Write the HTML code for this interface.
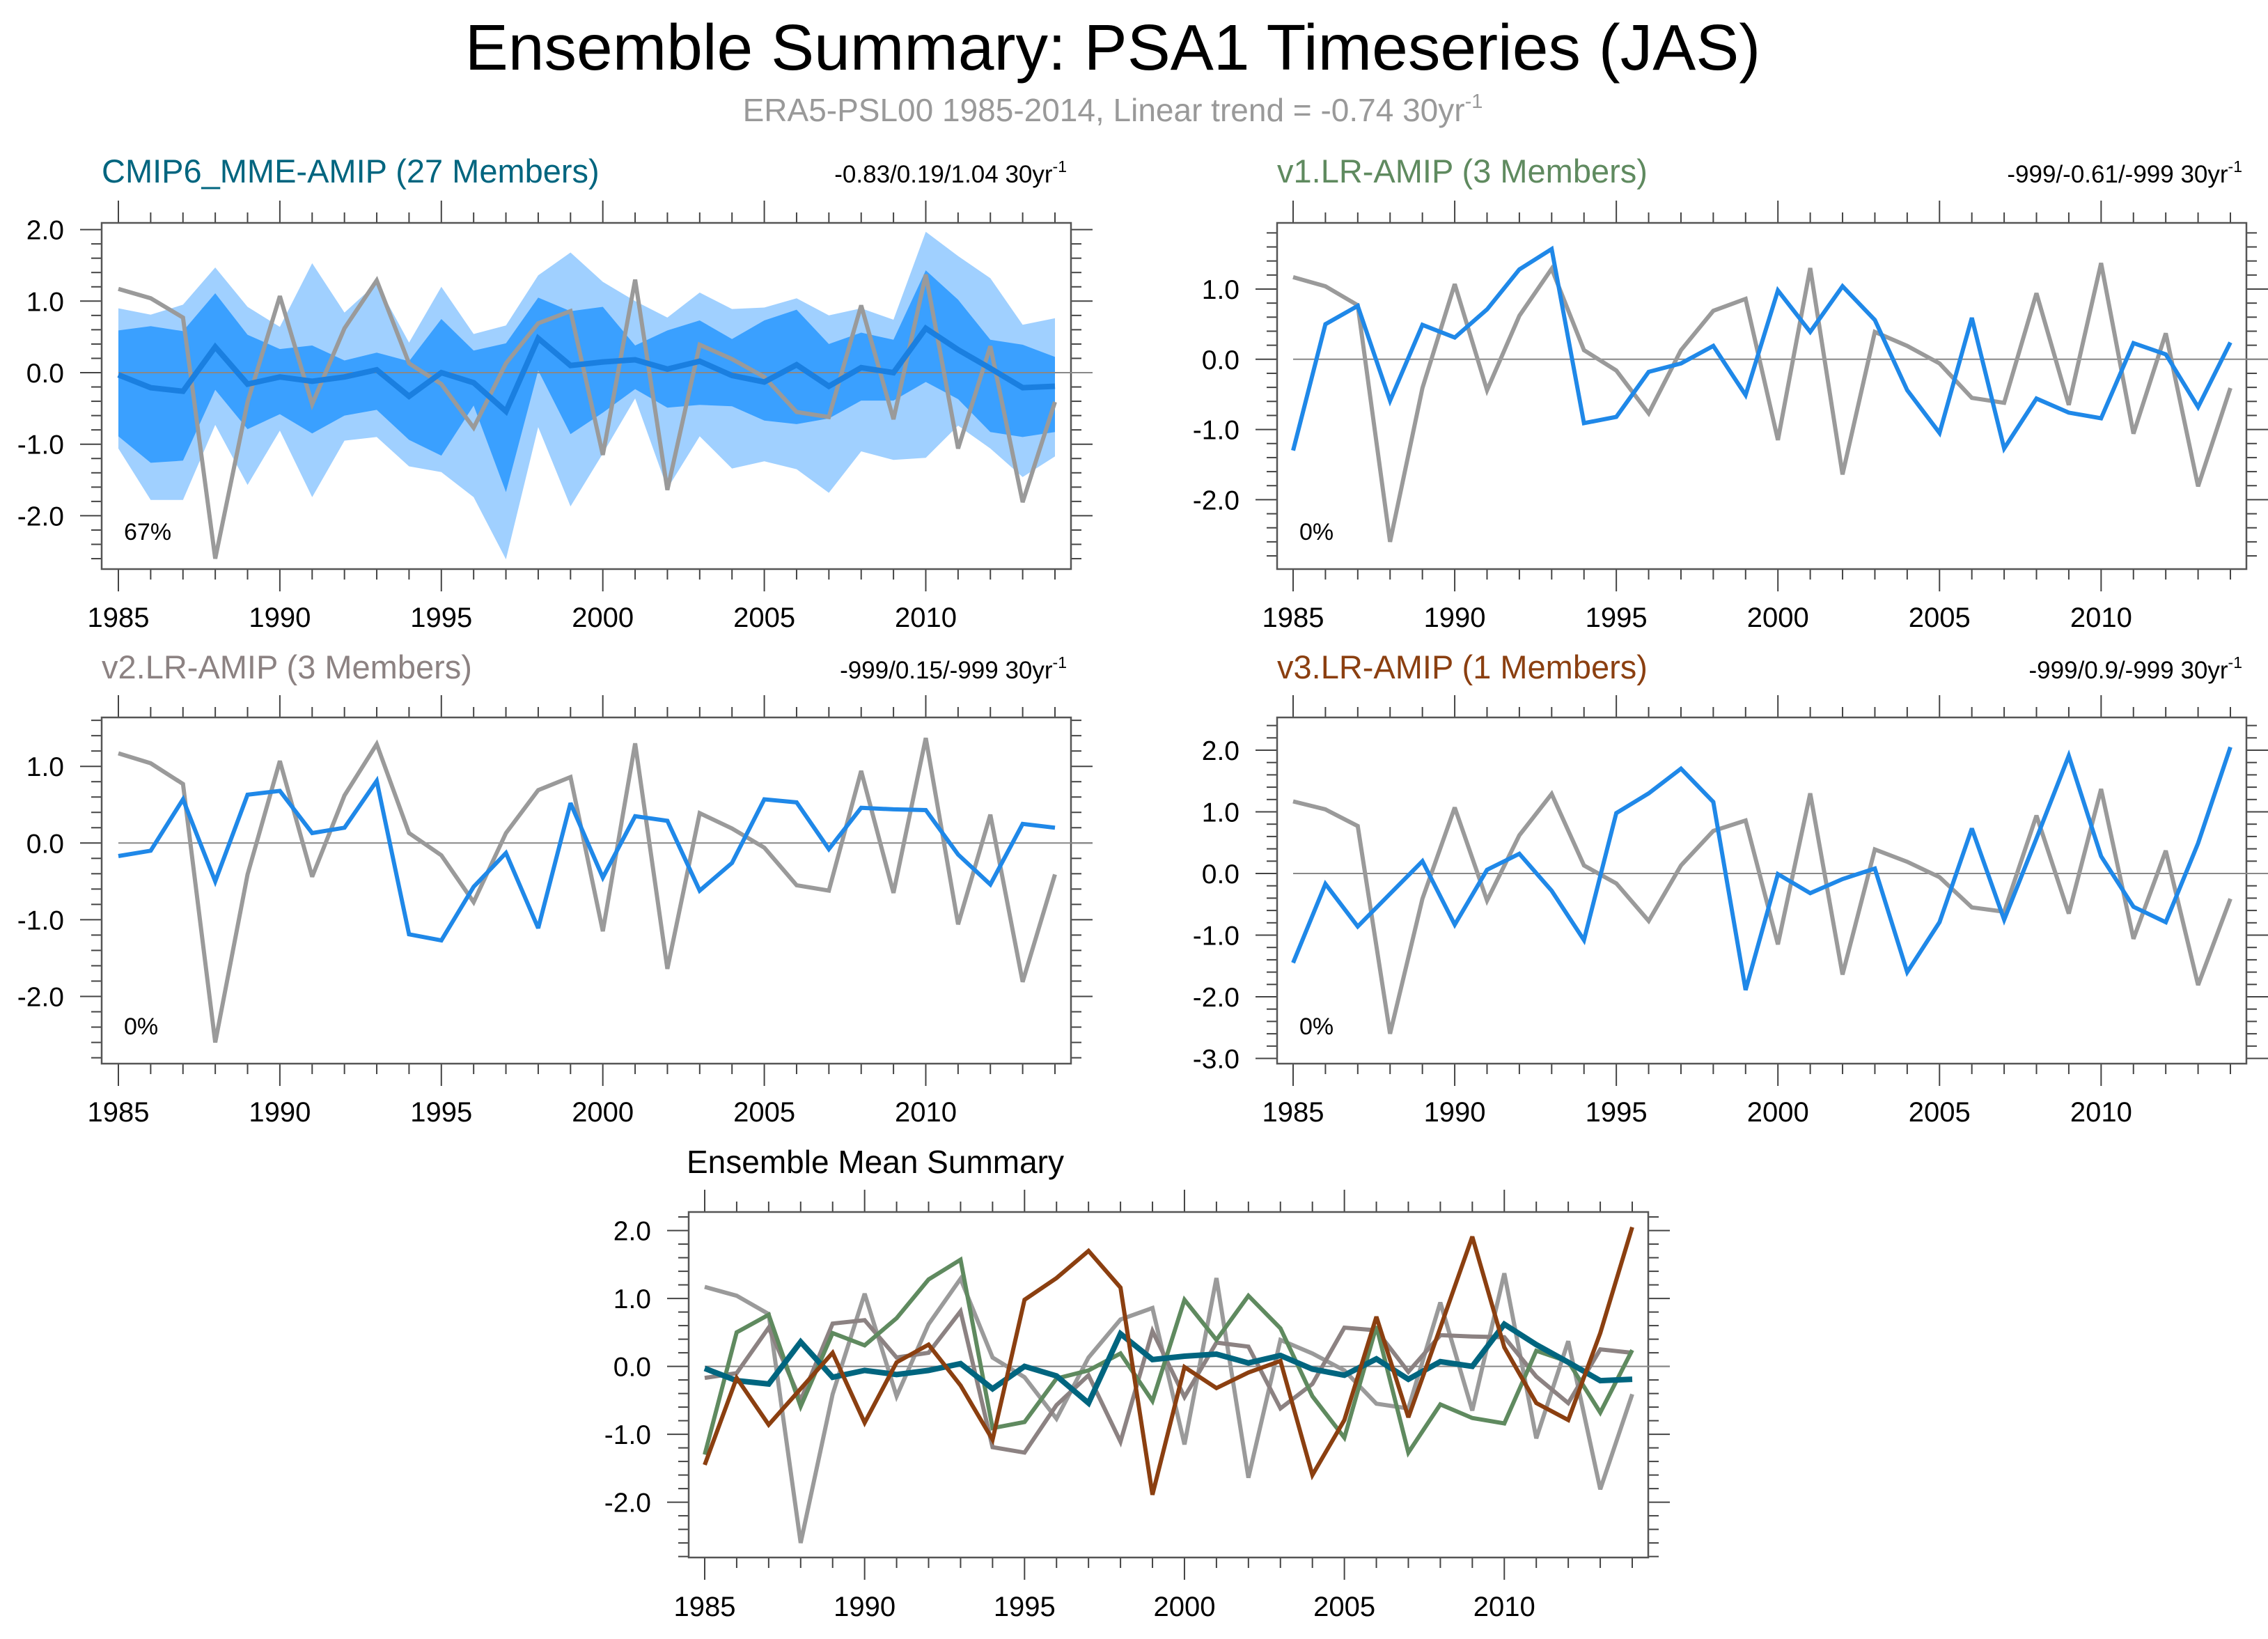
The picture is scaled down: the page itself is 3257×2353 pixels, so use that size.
<!DOCTYPE html>
<html><head><meta charset="utf-8"><style>
html,body{margin:0;padding:0;background:#fff;}
svg{display:block;font-family:"Liberation Sans",sans-serif;}
</style></head><body>
<svg id="chart" width="3257" height="2353" viewBox="0 0 3257 2353" xmlns="http://www.w3.org/2000/svg">
<text x="1598" y="100" font-size="93" text-anchor="middle" fill="#000">Ensemble Summary: PSA1 Timeseries (JAS)</text>
<text x="1598" y="174" font-size="46" text-anchor="middle" fill="#999">ERA5-PSL00 1985-2014, Linear trend = -0.74 30yr<tspan dy="-19" font-size="29">-1</tspan></text>
<text x="986" y="1684" font-size="46" fill="#000">Ensemble Mean Summary</text>
</svg>
<script>
const years = [];
for (let y = 1985; y <= 2014; y++) years.push(y);
const yearTicks = [1985,1990,1995,2000,2005,2010];
const obs = [1.17,1.04,0.77,-2.60,-0.41,1.07,-0.44,0.62,1.29,0.13,-0.16,-0.77,0.13,0.69,0.86,-1.15,1.30,-1.64,0.39,0.19,-0.06,-0.55,-0.62,0.94,-0.65,1.37,-1.06,0.37,-1.81,-0.41];
const mmeMean = [-0.03,-0.21,-0.26,0.36,-0.16,-0.06,-0.12,-0.06,0.04,-0.33,0.00,-0.14,-0.54,0.48,0.10,0.15,0.18,0.05,0.16,-0.04,-0.13,0.11,-0.19,0.07,0.00,0.62,0.32,0.06,-0.21,-0.19];
const mmeDarkHi = [0.59,0.65,0.58,1.11,0.53,0.33,0.38,0.17,0.28,0.16,0.75,0.31,0.41,1.05,0.86,0.92,0.38,0.59,0.73,0.47,0.73,0.88,0.40,0.56,0.46,1.43,1.02,0.46,0.39,0.22];
const mmeDarkLo = [-0.89,-1.26,-1.23,-0.24,-0.79,-0.58,-0.85,-0.60,-0.52,-0.94,-1.16,-0.46,-1.67,0.03,-0.86,-0.56,-0.23,-0.49,-0.45,-0.47,-0.67,-0.72,-0.64,-0.39,-0.39,-0.13,-0.37,-0.83,-0.90,-0.83];
const mmeLightHi = [0.90,0.81,0.95,1.47,0.92,0.64,1.53,0.84,1.25,0.42,1.20,0.54,0.66,1.36,1.68,1.27,1.00,0.77,1.12,0.89,0.91,1.04,0.80,0.90,0.74,1.97,1.63,1.32,0.67,0.76];
const mmeLightLo = [-1.06,-1.78,-1.78,-0.73,-1.57,-0.81,-1.74,-0.95,-0.90,-1.31,-1.39,-1.74,-2.61,-0.76,-1.87,-1.13,-0.36,-1.62,-0.89,-1.34,-1.24,-1.35,-1.68,-1.10,-1.22,-1.19,-0.74,-1.06,-1.46,-1.17];
const v1 = [-1.30,0.50,0.76,-0.59,0.49,0.31,0.71,1.28,1.57,-0.91,-0.82,-0.18,-0.06,0.19,-0.51,0.98,0.39,1.04,0.56,-0.44,-1.05,0.59,-1.27,-0.56,-0.76,-0.84,0.23,0.07,-0.68,0.24];
const v2 = [-0.17,-0.10,0.57,-0.50,0.63,0.68,0.13,0.20,0.81,-1.19,-1.27,-0.57,-0.13,-1.11,0.52,-0.45,0.35,0.29,-0.62,-0.26,0.57,0.53,-0.08,0.46,0.44,0.43,-0.15,-0.54,0.25,0.20];
const v3 = [-1.45,-0.17,-0.86,-0.33,0.20,-0.83,0.06,0.32,-0.28,-1.08,0.98,1.30,1.70,1.16,-1.89,-0.01,-0.32,-0.09,0.08,-1.60,-0.79,0.73,-0.75,0.57,1.91,0.28,-0.54,-0.79,0.49,2.05];
const yTicks1 = [-2,-1,0,1,2];
const yTicks4 = [-3,-2,-1,0,1,2];

const NS = "http://www.w3.org/2000/svg";
const svg = document.getElementById('chart');
function mk(tag, attrs, parent) {
  const e = document.createElementNS(NS, tag);
  for (const k in attrs) e.setAttribute(k, attrs[k]);
  (parent || svg).appendChild(e);
  return e;
}
function panel(name, g) {
  const grp = mk('g', {});
  
  
  const xs = yr => g.x0 + (yr - 1985) * (g.x1 - g.x0) / 29;
  const ys = v => g.yz - v * g.unit;
  const vTop = (g.yz - g.top) / g.unit, vBot = (g.yz - g.bot) / g.unit;
  return {grp, xs, ys, vTop, vBot, g};
}
function frame(p, yTicks) {
  const g = p.g, grp = p.grp;
  const axg = mk('g', {stroke: '#444', 'stroke-width': 2}, grp);
  
  
  years.forEach(y => {
    const x = p.xs(y), major = (y % 5 === 0);
    const L = major ? 32 : 15;
    mk('line', {x1: x, x2: x, y1: g.top, y2: g.top - L}, axg);
    mk('line', {x1: x, x2: x, y1: g.bot, y2: g.bot + L}, axg);
  });
  for (let k = Math.ceil(p.vBot * 5 - 1e-6); k <= Math.floor(p.vTop * 5 + 1e-6); k++) {
    const v = k / 5, y = p.ys(v), major = (k % 5 === 0);
    const L = major ? 31 : 15;
    mk('line', {x1: g.left, x2: g.left - L, y1: y, y2: y}, axg);
    mk('line', {x1: g.right, x2: g.right + L, y1: y, y2: y}, axg);
  }
  mk('rect', {x: g.left, y: g.top, width: g.right - g.left, height: g.bot - g.top, fill: 'none', stroke: '#555', 'stroke-width': 2.5}, axg);
  const zl = mk('line', {x1: p.xs(1985), x2: g.right + 31, y1: p.ys(0), y2: p.ys(0), stroke: '#888', 'stroke-width': 2}, grp);
  
  
  yearTicks.forEach(y => {
    const t = mk('text', {x: p.xs(y), y: g.yl, 'font-size': 40, 'text-anchor': 'middle', fill: '#000'}, grp);
    t.textContent = y;
    
    
  });
  yTicks.forEach(v => {
    const t = mk('text', {x: g.left - 54, y: p.ys(v) + 14, 'font-size': 39, 'text-anchor': 'end', fill: '#000'}, grp);
    t.textContent = v.toFixed(1);
    
    
  });
}
function line(p, vals, color, w, name) {
  const pts = vals.map((v, i) => p.xs(years[i]).toFixed(1) + ',' + p.ys(v).toFixed(1)).join(' ');
  const e = mk('polyline', {points: pts, fill: 'none', stroke: color, 'stroke-width': w, 'stroke-linejoin': 'miter', 'stroke-miterlimit': 3}, p.grp);
  
  
}
function band(p, hi, lo, color, name) {
  const a = hi.map((v, i) => p.xs(years[i]).toFixed(1) + ',' + p.ys(v).toFixed(1));
  const b = lo.map((v, i) => p.xs(years[i]).toFixed(1) + ',' + p.ys(v).toFixed(1)).reverse();
  const e = mk('polygon', {points: a.concat(b).join(' '), fill: color}, p.grp);
  
  
}
function titles(p, title, color, trend, pct) {
  const g = p.g;
  const t = mk('text', {x: g.left, y: g.ty, 'font-size': 47, fill: color}, p.grp);
  t.textContent = title;
  
  
  const r = mk('text', {x: g.right - 6, y: g.ty, 'font-size': 35, 'text-anchor': 'end', fill: '#000'}, p.grp);
  r.innerHTML = trend + ' 30yr<tspan dy="-15" font-size="23">-1</tspan>';
  
  
  const pc = mk('text', {x: g.left + 32, y: g.bot - 42, 'font-size': 34, fill: '#000'}, p.grp);
  pc.textContent = pct;
  
  
}
const BLUE = '#1f88e8', OBS = '#9a9a9a';

const p1 = panel('panel-cmip6-mme', {left:146,right:1538,top:320,bot:817,x0:170,x1:1515,yz:535,unit:102.7,yl:900,ty:262});
band(p1, mmeLightHi, mmeLightLo, '#a0d0ff', 'spread-band-outer');
band(p1, mmeDarkHi, mmeDarkLo, '#3aa0ff', 'spread-band-inner');
frame(p1, yTicks1);
line(p1, obs, OBS, 6, 'obs-line');
line(p1, mmeMean, '#1a7fe0', 8, 'ensemble-mean-line');
titles(p1, 'CMIP6_MME-AMIP (27 Members)', '#00657f', '-0.83/0.19/1.04', '67%');

const p2 = panel('panel-v1', {left:1834,right:3226,top:320,bot:817,x0:1857,x1:3203,yz:515.8,unit:100.8,yl:900,ty:262});
frame(p2, [-2,-1,0,1]);
line(p2, obs, OBS, 6, 'obs-line');
line(p2, v1, BLUE, 6, 'v1-line');
titles(p2, 'v1.LR-AMIP (3 Members)', '#5f8a5f', '-999/-0.61/-999', '0%');

const p3 = panel('panel-v2', {left:146,right:1538,top:1030,bot:1527,x0:170,x1:1515,yz:1210.3,unit:110.1,yl:1610,ty:974});
frame(p3, [-2,-1,0,1]);
line(p3, obs, OBS, 6, 'obs-line');
line(p3, v2, BLUE, 6, 'v2-line');
titles(p3, 'v2.LR-AMIP (3 Members)', '#8c8282', '-999/0.15/-999', '0%');

const p4 = panel('panel-v3', {left:1834,right:3226,top:1030,bot:1527,x0:1857,x1:3203,yz:1254,unit:88.5,yl:1610,ty:974});
frame(p4, yTicks4);
line(p4, obs, OBS, 6, 'obs-line');
line(p4, v3, BLUE, 6, 'v3-line');
titles(p4, 'v3.LR-AMIP (1 Members)', '#8b3f10', '-999/0.9/-999', '0%');

const p5 = panel('panel-ensemble-mean-summary', {left:989,right:2367,top:1740,bot:2236,x0:1012,x1:2344,yz:1961.6,unit:97.5,yl:2320,ty:1684});
frame(p5, yTicks1);
line(p5, obs, OBS, 6, 'obs-line');
line(p5, v2, '#8c8282', 6, 'v2-mean-line');
line(p5, v1, '#5f8a5f', 6, 'v1-mean-line');
line(p5, mmeMean, '#00657f', 8, 'mme-mean-line');
line(p5, v3, '#8b3f10', 6, 'v3-mean-line');
</script>
</body></html>
